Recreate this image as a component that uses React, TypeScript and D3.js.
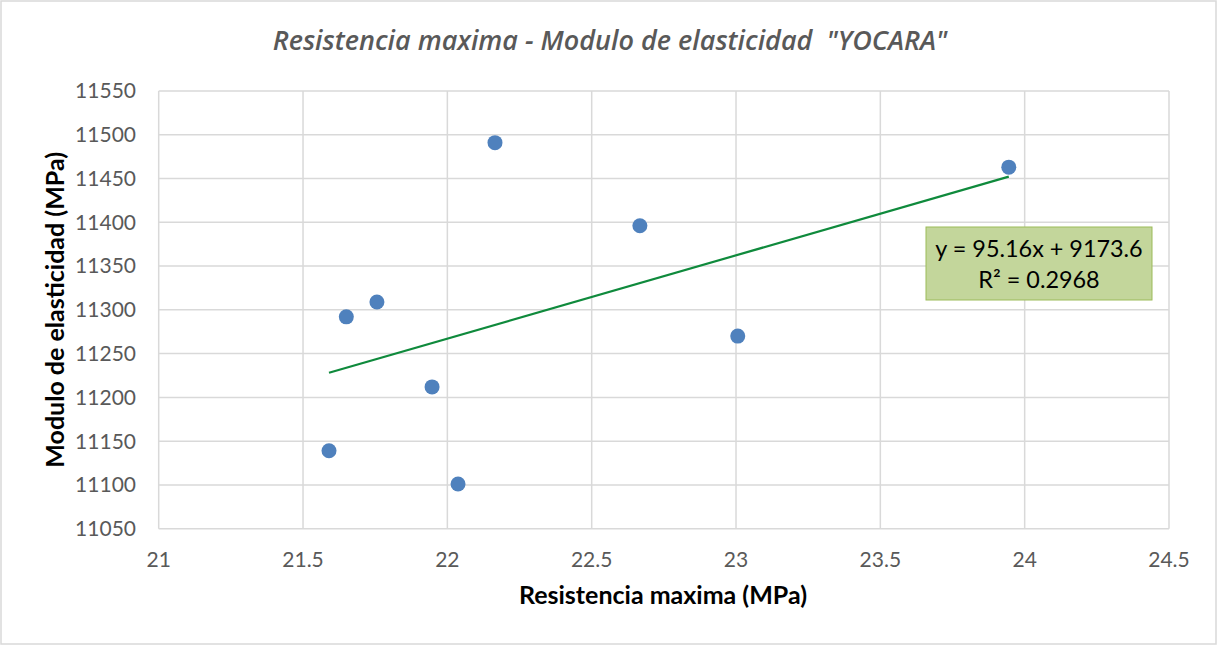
import React, { useRef, useEffect } from "react";
import * as d3 from "d3";

const resistencia = [21.59, 21.65, 21.756, 21.947, 22.037, 22.165, 22.667, 23.006, 23.945];
const modulo = [11139, 11292, 11309, 11212, 11101, 11491, 11396, 11270, 11463];
const xTicks = [21, 21.5, 22, 22.5, 23, 23.5, 24, 24.5];
const yTicks = [11050, 11100, 11150, 11200, 11250, 11300, 11350, 11400, 11450, 11500, 11550];
const slope = 95.16;
const intercept = 9173.6;
const eqLines = ["y = 95.16x + 9173.6", "R² = 0.2968"];

const W = 1218;
const H = 646;
const FONT = "Lato, 'Noto Sans', sans-serif";

const App = () => {
  const svgRef = useRef<SVGSVGElement>(null);

  useEffect(() => {
    const svg = d3.select(svgRef.current);
    svg.selectAll("*").remove();

    const left = 158.7, right = 1169, top = 91, bottom = 528.7;
    const x = d3.scaleLinear().domain([21, 24.5]).range([left, right]);
    const y = d3.scaleLinear().domain([11050, 11550]).range([bottom, top]);

    svg.append("rect").attr("x", 1).attr("y", 1).attr("width", W - 3).attr("height", H - 3)
      .attr("fill", "#fff").attr("stroke", "#d9d9d9").attr("stroke-width", 1.5);

    svg.append("text").attr("x", 610).attr("y", 50).attr("text-anchor", "middle")
      .attr("font-family", "'Open Sans', Lato, sans-serif").attr("font-size", 27)
      .attr("font-style", "italic").attr("font-weight", 600).attr("fill", "#595959")
      .style("white-space", "pre")
      .text('Resistencia maxima - Modulo de elasticidad  "YOCARA"');

    // gridlines
    svg.append("g").selectAll("line").data(yTicks).enter().append("line")
      .attr("x1", left).attr("x2", right).attr("y1", (d) => y(d)).attr("y2", (d) => y(d))
      .attr("stroke", "#d9d9d9").attr("stroke-width", 1.5);
    svg.append("g").selectAll("line").data(xTicks).enter().append("line")
      .attr("y1", top).attr("y2", bottom).attr("x1", (d) => x(d)).attr("x2", (d) => x(d))
      .attr("stroke", "#d9d9d9").attr("stroke-width", 1.5);

    // tick labels
    svg.append("g").selectAll("text").data(yTicks).enter().append("text")
      .attr("x", 136).attr("y", (d) => y(d)).attr("dy", "0.35em").attr("text-anchor", "end")
      .attr("font-family", FONT).attr("font-size", 21).attr("fill", "#595959")
      .text((d) => `${d}`);
    svg.append("g").selectAll("text").data(xTicks).enter().append("text")
      .attr("x", (d) => x(d)).attr("y", 567).attr("text-anchor", "middle")
      .attr("font-family", FONT).attr("font-size", 21).attr("fill", "#595959")
      .text((d) => `${d}`);

    // axis titles
    svg.append("text").attr("x", 663).attr("y", 604).attr("text-anchor", "middle")
      .attr("font-family", FONT).attr("font-size", 25).attr("font-weight", "bold").attr("fill", "#000")
      .text("Resistencia maxima (MPa)");
    svg.append("text").attr("transform", `translate(64,${(top + bottom) / 2}) rotate(-90)`)
      .attr("text-anchor", "middle")
      .attr("font-family", FONT).attr("font-size", 25).attr("font-weight", "bold").attr("fill", "#000")
      .text("Modulo de elasticidad (MPa)");

    // trendline
    const xMin = d3.min(resistencia) as number;
    const xMax = d3.max(resistencia) as number;
    const line = d3.line<number>().x((d) => x(d)).y((d) => y(slope * d + intercept));
    svg.append("path").attr("d", line([xMin, xMax])).attr("fill", "none")
      .attr("stroke", "#0f8a3c").attr("stroke-width", 2.2);

    // points
    svg.append("g").selectAll("circle").data(resistencia).enter().append("circle")
      .attr("cx", (d) => x(d)).attr("cy", (d, i) => y(modulo[i])).attr("r", 7.5)
      .attr("fill", "#4f81bd");

    // equation label
    const lab = svg.append("g");
    lab.append("rect").attr("x", 926).attr("y", 227).attr("width", 226).attr("height", 73)
      .attr("fill", "#c3d69b").attr("stroke", "#9bbb59").attr("stroke-width", 1);
    lab.selectAll("text").data(eqLines).enter().append("text")
      .attr("x", 1039).attr("y", (d, i) => 257 + i * 31).attr("text-anchor", "middle")
      .attr("font-family", FONT).attr("font-size", 23.4).attr("fill", "#000")
      .text((d) => d);
  }, []);

  return (
    <svg ref={svgRef} width={W} height={H}
      style={{ position: "absolute", left: 0, top: 0, background: "#fff" }} />
  );
};

export default App;
